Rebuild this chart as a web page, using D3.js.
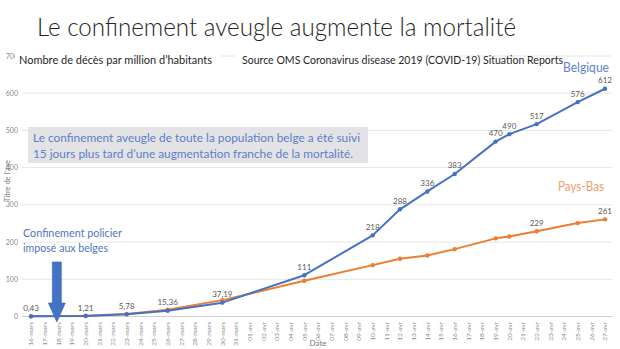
<!DOCTYPE html>
<html>
<head>
<meta charset="utf-8">
<script src="https://cdn.jsdelivr.net/npm/d3@7"></script>
<style>
  html, body { margin: 0; padding: 0; background: #fff; }
  svg { display: block; font-family: Lato, "Open Sans", sans-serif; }
</style>
</head>
<body>
<svg id="chart" width="620" height="349"></svg>
<script>
// Category axis: one tick per day
const dayLabels = [
  "16-mars","17-mars","18-mars","19-mars","20-mars","21-mars","22-mars","23-mars",
  "24-mars","25-mars","26-mars","27-mars","28-mars","29-mars","30-mars","31-mars",
  "01-avr","02-avr","03-avr","04-avr","05-avr","06-avr","07-avr","08-avr","09-avr",
  "10-avr","11-avr","12-avr","13-avr","14-avr","15-avr","16-avr","17-avr","18-avr",
  "19-avr","20-avr","21-avr","22-avr","23-avr","24-avr","25-avr","26-avr","27-avr"
];

// Report dates with a value
const reportDates = [
  "16-mars","20-mars","23-mars","26-mars","30-mars","05-avr","10-avr","12-avr",
  "14-avr","16-avr","19-avr","20-avr","22-avr","25-avr","27-avr"
];

// Deaths per million inhabitants
const belgiqueValues = [0.43, 1.21, 5.78, 15.36, 37.19, 111, 218, 288, 336, 383, 470, 490, 517, 576, 612];
const paysBasValues  = [0.5, 2, 7, 18, 44, 96, 138, 155, 164, 181, 210, 215, 229, 251, 261];
// Which Pays-Bas values carry a label
const paysBasLabelled = [229, 261];

const yTicks = [0, 100, 200, 300, 400, 500, 600, 700];

const blue = "#4472C4";
const orange = "#ED7D31";

const svg = d3.select("#chart");

const x = d3.scalePoint().domain(dayLabels).range([31, 605]);
const y = d3.scaleLinear().domain([0, 700]).range([316.5, 56]);

// Gridlines
const grid = svg.append("g");
grid.selectAll("line").data(yTicks).join("line")
  .attr("x1", 22).attr("x2", 612)
  .attr("y1", d => y(d)).attr("y2", d => y(d))
  .attr("stroke", d => d === 0 ? "#d0d0d0" : "#e6e6e6")
  .attr("stroke-width", 1);

// Y tick labels
svg.append("g").selectAll("text").data(yTicks).join("text")
  .attr("x", 18).attr("y", d => y(d) + 2.5)
  .attr("text-anchor", "end")
  .attr("font-size", 7)
  .attr("fill", "#8a8a8a")
  .text(d => d);

// X tick labels (rotated)
svg.append("g").selectAll("text").data(dayLabels).join("text")
  .attr("transform", d => `translate(${x(d) + 2.3},322) rotate(-90)`)
  .attr("text-anchor", "end")
  .attr("font-size", 6.5)
  .attr("fill", "#8a8a8a")
  .text(d => d);

// Axis titles
svg.append("text")
  .attr("transform", "translate(10,181) rotate(-90)")
  .attr("text-anchor", "middle")
  .attr("font-size", 7.5)
  .attr("fill", "#7a7a7a")
  .text("Titre de l'axe");
svg.append("text")
  .attr("x", 318).attr("y", 346)
  .attr("text-anchor", "middle")
  .attr("font-size", 8)
  .attr("fill", "#7a7a7a")
  .text("Date");

// Series
const line = d3.line().x(d => x(d.date)).y(d => y(d.value));
const series = [
  { name: "Belgique", color: blue, values: belgiqueValues, labelled: () => true },
  { name: "Pays-Bas", color: orange, values: paysBasValues, labelled: v => paysBasLabelled.includes(v) }
];

// draw Pays-Bas first so Belgique sits on top
series.slice().reverse().forEach(s => {
  const pts = reportDates.map((d, i) => ({ date: d, value: s.values[i] }));
  const g = svg.append("g");
  g.append("path").datum(pts)
    .attr("d", line)
    .attr("fill", "none")
    .attr("stroke", s.color)
    .attr("stroke-width", 2)
    .attr("stroke-linejoin", "round");
  g.selectAll("circle").data(pts).join("circle")
    .attr("cx", d => x(d.date)).attr("cy", d => y(d.value))
    .attr("r", 2.2)
    .attr("fill", s.color);
  g.selectAll("text").data(pts.filter(d => s.labelled(d.value))).join("text")
    .attr("x", d => x(d.date)).attr("y", d => y(d.value) - 5.5)
    .attr("text-anchor", "middle")
    .attr("font-size", 8)
    .attr("fill", "#595959")
    .text(d => String(d.value).replace(".", ","));
});

// Title
svg.append("text")
  .attr("x", 37).attr("y", 36)
  .attr("font-size", 25)
  .attr("font-weight", 300)
  .attr("fill", "#262626")
  .attr("textLength", 479).attr("lengthAdjust", "spacingAndGlyphs")
  .text("Le confinement aveugle augmente la mortalité");

// Subtitle boxes (white background hides the grid behind them)
svg.append("rect").attr("x", 15).attr("y", 50).attr("width", 205).attr("height", 18).attr("fill", "#fff");
svg.append("rect").attr("x", 236).attr("y", 50).attr("width", 180).attr("height", 18).attr("fill", "#fff");
svg.append("text")
  .attr("x", 19).attr("y", 64)
  .attr("font-size", 10.5)
  .attr("fill", "#262626")
  .attr("textLength", 193).attr("lengthAdjust", "spacingAndGlyphs")
  .text("Nombre de décès par million d’habitants");
svg.append("text")
  .attr("x", 242).attr("y", 64)
  .attr("font-size", 10.5)
  .attr("fill", "#262626")
  .attr("textLength", 321).attr("lengthAdjust", "spacingAndGlyphs")
  .text("Source OMS Coronavirus disease 2019 (COVID-19) Situation Reports");

// Series names
svg.append("text")
  .attr("x", 563).attr("y", 72)
  .attr("font-size", 12.5)
  .attr("fill", "#5b84cc")
  .attr("textLength", 46).attr("lengthAdjust", "spacingAndGlyphs")
  .text("Belgique");
svg.append("text")
  .attr("x", 558).attr("y", 191)
  .attr("font-size", 12.5)
  .attr("fill", "#f0a06a")
  .attr("textLength", 46).attr("lengthAdjust", "spacingAndGlyphs")
  .text("Pays-Bas");

// Comment box
svg.append("rect")
  .attr("x", 28).attr("y", 127).attr("width", 340).attr("height", 36)
  .attr("fill", "#e3e3e6");
svg.append("text")
  .attr("x", 33).attr("y", 141.5)
  .attr("font-size", 12)
  .attr("fill", "#5b7fc8")
  .attr("textLength", 327).attr("lengthAdjust", "spacingAndGlyphs")
  .text("Le confinement aveugle de toute la population belge a été suivi");
svg.append("text")
  .attr("x", 33).attr("y", 157.5)
  .attr("font-size", 12)
  .attr("fill", "#5b7fc8")
  .attr("textLength", 320).attr("lengthAdjust", "spacingAndGlyphs")
  .text("15 jours plus tard d’une augmentation franche de la mortalité.");

// Lockdown annotation
svg.append("text")
  .attr("x", 23).attr("y", 237)
  .attr("font-size", 11.5)
  .attr("fill", "#4f76c2")
  .attr("textLength", 99).attr("lengthAdjust", "spacingAndGlyphs")
  .text("Confinement policier");
svg.append("text")
  .attr("x", 23).attr("y", 252)
  .attr("font-size", 11.5)
  .attr("fill", "#4f76c2")
  .attr("textLength", 85).attr("lengthAdjust", "spacingAndGlyphs")
  .text("imposé aux belges");

// Down arrow pointing at the lockdown date
const ax = x("18-mars") - 1.5;
svg.append("path")
  .attr("d", `M${ax - 4.5},262 H${ax + 4.5} V303 H${ax + 8.5} L${ax},322 L${ax - 8.5},303 H${ax - 4.5} Z`)
  .attr("fill", blue)
  .attr("stroke", "#3a64b0")
  .attr("stroke-width", 0.6);
</script>
</body>
</html>
